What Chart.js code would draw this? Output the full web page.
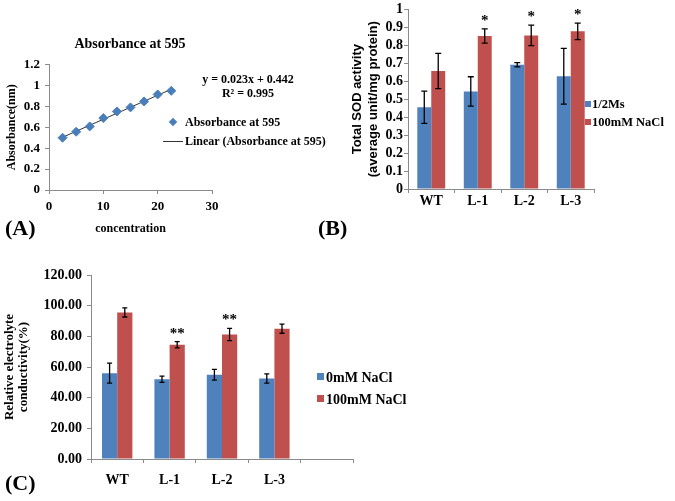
<!DOCTYPE html>
<html>
<head>
<meta charset="utf-8">
<script src="https://cdn.jsdelivr.net/npm/chart.js@4.4.1/dist/chart.umd.min.js"></script>
<style>
  body { margin: 0; width: 675px; height: 501px; background: #fff; position: relative; overflow: hidden;
         font-family: "Liberation Serif", "Times New Roman", serif; font-weight: bold; color: #000; }
  canvas { position: absolute; }
  .txt { position: absolute; white-space: nowrap; }
  .sq { position: absolute; width: 6px; height: 6px; }
</style>
</head>
<body>
<canvas id="chartA" width="230" height="195" style="left:0;top:50px"></canvas>
<canvas id="chartB" width="252" height="215" style="left:345px;top:0"></canvas>
<canvas id="chartC" width="356" height="241" style="left:0;top:260px"></canvas>

<!-- panel A text -->
<div class="txt" style="left:70px;width:120px;text-align:center;top:35px;font-size:14px;line-height:18px">Absorbance at 595</div>
<div class="txt" style="left:178px;width:140px;text-align:center;top:72px;font-size:12px;line-height:14px">y = 0.023x + 0.442</div>
<div class="txt" style="left:178px;width:140px;text-align:center;top:86px;font-size:12px;line-height:14px">R² = 0.995</div>
<div style="position:absolute;left:170px;top:119px;width:6px;height:6px;background:#4a7ebb;transform:rotate(45deg)"></div>
<div class="txt" style="left:185px;top:115px;font-size:12px;line-height:14px">Absorbance at 595</div>
<div style="position:absolute;left:163px;top:141px;width:20px;height:1px;background:#333"></div>
<div class="txt" style="left:185px;top:134px;font-size:12px;line-height:14px">Linear (Absorbance at 595)</div>

<!-- panel B legend -->
<div class="sq" style="left:585px;top:101px;background:#4f81bd"></div>
<div class="txt" style="left:592px;top:96px;font-size:12.5px;line-height:16px">1/2Ms</div>
<div class="sq" style="left:585px;top:119px;background:#c0504d"></div>
<div class="txt" style="left:592px;top:114px;font-size:12.5px;line-height:16px">100mM NaCl</div>

<!-- panel C legend -->
<div class="sq" style="left:317px;top:373px;width:7px;height:7px;background:#4f81bd"></div>
<div class="txt" style="left:326px;top:369px;font-size:14px;line-height:18px">0mM NaCl</div>
<div class="sq" style="left:317px;top:395px;width:7px;height:7px;background:#c0504d"></div>
<div class="txt" style="left:326px;top:391px;font-size:14px;line-height:18px">100mM NaCl</div>

<!-- panel labels -->
<div class="txt" style="left:5px;top:216px;font-size:22px;line-height:24px">(A)</div>
<div class="txt" style="left:318px;top:216px;font-size:22px;line-height:24px">(B)</div>
<div class="txt" style="left:5px;top:471px;font-size:22px;line-height:24px">(C)</div>

<script>
// (A) standard curve
const concentration = [2.5, 5, 7.5, 10, 12.5, 15, 17.5, 20, 22.5];
const absorbance = [0.50, 0.557, 0.608, 0.688, 0.751, 0.790, 0.847, 0.914, 0.948];

// (B) total SOD activity
const sodLines = ['WT', 'L-1', 'L-2', 'L-3'];
const sodControl = [0.455, 0.543, 0.692, 0.628];
const sodControlErr = [0.09, 0.082, 0.012, 0.155];
const sodSalt = [0.657, 0.852, 0.855, 0.878];
const sodSaltErr = [0.098, 0.04, 0.057, 0.046];
const sodSaltSig = ['', '*', '*', '*'];

// (C) relative electrolyte conductivity
const ecLines = ['WT', 'L-1', 'L-2', 'L-3', ''];
const ecControl = [56, 52, 55, 52.5];
const ecControlErr = [6.5, 2, 3.5, 3];
const ecSalt = [95.6, 74.5, 81.2, 85];
const ecSaltErr = [3, 2, 4, 3];
const ecSaltSig = ['', '**', '**', ''];

const BLUE = '#4f81bd';
const RED = '#c0504d';
const AXIS = '#8a8a8a';
const SERIF = '"Liberation Serif", "Times New Roman", serif';
const SANS = '"Liberation Sans", Arial, sans-serif';

Chart.defaults.color = '#000';
Chart.defaults.font.family = SERIF;
Chart.defaults.font.weight = 'bold';

// least squares trend line from the measured points
const n = concentration.length;
const mx = concentration.reduce((a, b) => a + b, 0) / n;
const my = absorbance.reduce((a, b) => a + b, 0) / n;
let sxy = 0, sxx = 0;
concentration.forEach((x, i) => { sxy += (x - mx) * (absorbance[i] - my); sxx += (x - mx) * (x - mx); });
const slope = sxy / sxx;
const intercept = my - slope * mx;
const xFirst = concentration[0], xLast = concentration[n - 1];

// error bars + significance stars on top of bars
const errorBars = {
  id: 'errorBars',
  afterDatasetsDraw(chart, args, opts) {
    const ctx = chart.ctx;
    const yScale = chart.scales.y;
    chart.data.datasets.forEach((ds, i) => {
      if (!ds.errors) return;
      const meta = chart.getDatasetMeta(i);
      meta.data.forEach((bar, j) => {
        const v = ds.data[j], e = ds.errors[j];
        if (v == null || e == null) return;
        const top = yScale.getPixelForValue(v + e);
        const bot = yScale.getPixelForValue(v - e);
        ctx.save();
        ctx.strokeStyle = '#000';
        ctx.lineWidth = 1.3;
        ctx.beginPath();
        ctx.moveTo(bar.x, top); ctx.lineTo(bar.x, bot);
        ctx.moveTo(bar.x - opts.cap, top); ctx.lineTo(bar.x + opts.cap, top);
        ctx.moveTo(bar.x - opts.cap, bot); ctx.lineTo(bar.x + opts.cap, bot);
        ctx.stroke();
        if (ds.stars && ds.stars[j]) {
          ctx.fillStyle = '#000';
          ctx.font = 'bold ' + opts.starSize + 'px ' + SERIF;
          ctx.textAlign = 'center';
          ctx.textBaseline = 'alphabetic';
          ctx.fillText(ds.stars[j], bar.x, top - opts.starGap);
        }
        ctx.restore();
      });
    });
  }
};

function axisGrid() {
  return { display: true, drawOnChartArea: false, drawTicks: true, tickLength: 4, color: AXIS };
}

// plain decimal labels: 0, 0.2, ..., 1, 1.2
const plainNum = v => String(Math.round(v * 10) / 10);

new Chart(document.getElementById('chartA'), {
  type: 'scatter',
  data: {
    datasets: [
      {
        label: 'Absorbance at 595',
        data: concentration.map((x, i) => ({ x: x, y: absorbance[i] })),
        pointStyle: 'rectRot',
        pointRadius: 4.5,
        backgroundColor: '#4a7ebb',
        borderColor: '#4a7ebb',
        order: 0
      },
      {
        type: 'line',
        label: 'Linear (Absorbance at 595)',
        data: [{ x: xFirst, y: slope * xFirst + intercept }, { x: xLast, y: slope * xLast + intercept }],
        borderColor: '#333',
        borderWidth: 1,
        pointRadius: 0,
        order: 1
      }
    ]
  },
  options: {
    responsive: false,
    animation: false,
    layout: { padding: { top: 14.5, right: 18, left: 0, bottom: 0 } },
    plugins: { legend: { display: false }, tooltip: { enabled: false } },
    scales: {
      x: {
        type: 'linear', min: 0, max: 30,
        ticks: { stepSize: 10, padding: 5, font: { size: 13 } },
        grid: axisGrid(),
        border: { color: AXIS },
        title: { display: true, text: 'concentration', font: { size: 12 }, padding: { top: 0, bottom: 9 } },
        afterFit: s => { s.height = 55; }
      },
      y: {
        min: 0, max: 1.2,
        ticks: { stepSize: 0.2, padding: 5, autoSkip: false, font: { size: 13 }, callback: plainNum },
        grid: axisGrid(),
        border: { color: AXIS },
        title: { display: true, text: 'Absorbance(nm)', font: { size: 12 }, padding: { top: 5, bottom: 0 } },
        afterFit: s => { s.width = 49; }
      }
    }
  }
});

new Chart(document.getElementById('chartB'), {
  type: 'bar',
  data: {
    labels: sodLines,
    datasets: [
      { label: '1/2Ms', data: sodControl, errors: sodControlErr, backgroundColor: BLUE },
      { label: '100mM NaCl', data: sodSalt, errors: sodSaltErr, stars: sodSaltSig, backgroundColor: RED }
    ]
  },
  options: {
    responsive: false,
    animation: false,
    categoryPercentage: 0.6,
    barPercentage: 1,
    layout: { padding: { top: 7, right: 3, left: 0, bottom: 0 } },
    plugins: {
      legend: { display: false },
      tooltip: { enabled: false },
      errorBars: { cap: 3, starSize: 15, starGap: 4 }
    },
    scales: {
      x: {
        ticks: { padding: 0, font: { size: 14 } },
        grid: { ...axisGrid(), offset: true },
        border: { color: AXIS },
        afterFit: s => { s.height = 26; }
      },
      y: {
        min: 0, max: 1,
        ticks: { stepSize: 0.1, padding: 1, autoSkip: false, font: { size: 14 }, callback: plainNum },
        grid: axisGrid(),
        border: { color: AXIS },
        title: {
          display: true,
          text: ['Total SOD activity', '(average unit/mg protein)'],
          font: { size: 13, family: SANS, weight: 'bold', lineHeight: 16 / 13 },
          padding: { top: 4, bottom: 0 }
        },
        afterFit: s => { s.width = 63; }
      }
    }
  },
  plugins: [errorBars]
});

new Chart(document.getElementById('chartC'), {
  type: 'bar',
  data: {
    labels: ecLines,
    datasets: [
      { label: '0mM NaCl', data: ecControl, errors: ecControlErr, backgroundColor: BLUE },
      { label: '100mM NaCl', data: ecSalt, errors: ecSaltErr, stars: ecSaltSig, backgroundColor: RED }
    ]
  },
  options: {
    responsive: false,
    animation: false,
    categoryPercentage: 0.58,
    barPercentage: 1,
    layout: { padding: { top: 15, right: 3, left: 0, bottom: 0 } },
    plugins: {
      legend: { display: false },
      tooltip: { enabled: false },
      errorBars: { cap: 2.5, starSize: 15, starGap: 4 }
    },
    scales: {
      x: {
        ticks: { padding: 9, font: { size: 14 } },
        grid: { ...axisGrid(), offset: true },
        border: { color: AXIS },
        afterFit: s => { s.height = 42; }
      },
      y: {
        min: 0, max: 120,
        ticks: { stepSize: 20, padding: 5, autoSkip: false, font: { size: 14 }, callback: v => v.toFixed(2) },
        grid: axisGrid(),
        border: { color: AXIS },
        title: {
          display: true,
          text: ['Relative electrolyte', 'conductivity(%)'],
          font: { size: 13, lineHeight: 14 / 13 },
          padding: { top: 3, bottom: 0 }
        },
        afterFit: s => { s.width = 91; }
      }
    }
  },
  plugins: [errorBars]
});
</script>
</body>
</html>
